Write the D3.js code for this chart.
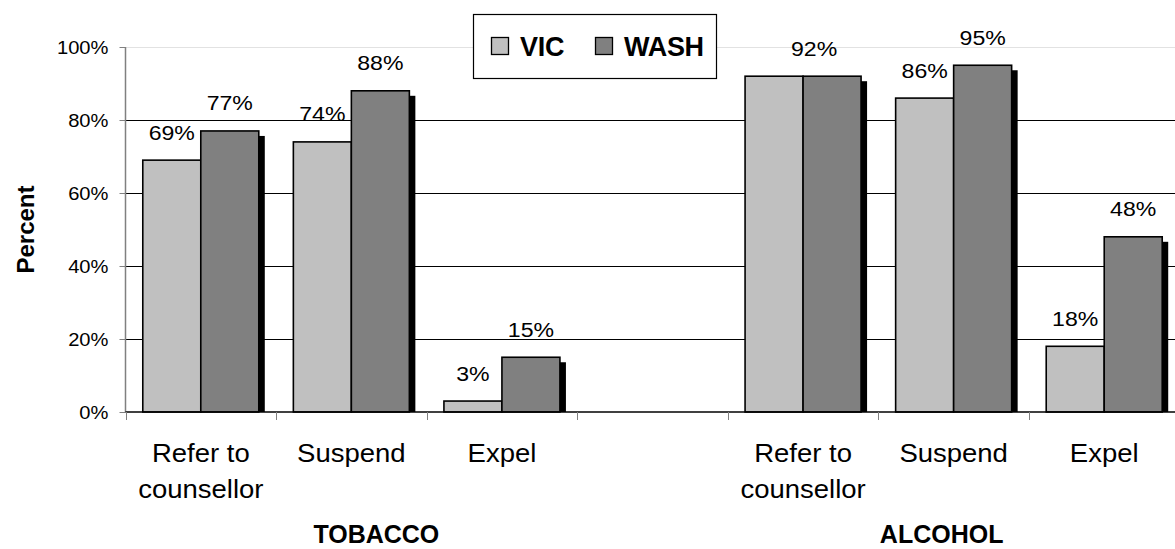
<!DOCTYPE html>
<html>
<head>
<meta charset="utf-8">
<script src="https://cdn.jsdelivr.net/npm/d3@7"></script>
<style>
  html, body { margin: 0; padding: 0; background: #fff; }
  svg { display: block; font-family: "Liberation Sans", Arial, sans-serif; }
</style>
</head>
<body>
<svg id="chart" width="1175" height="549"></svg>
<script>
// ---- data ----
const categories = ["Refer to\ncounsellor", "Suspend", "Expel", "", "Refer to\ncounsellor", "Suspend", "Expel"];
const seriesNames = ["VIC", "WASH"];
const vicValues  = [69, 74, 3, null, 92, 86, 18];
const washValues = [77, 88, 15, null, 92, 95, 48];
const vicLabelShown = [true, true, true, false, false, true, true];
const yTicks = [0, 20, 40, 60, 80, 100];
const groupNames = ["TOBACCO", "ALCOHOL"];
const groupAnchor = [1, 5]; // category index each group title sits under

const colors = { VIC: "#c0c0c0", WASH: "#808080" };

const svg = d3.select("#chart");
const pLeft = 125.5, pRight = 1179.5, pTop = 47, pBottom = 412;

const x = d3.scaleBand().domain(d3.range(categories.length)).range([pLeft, pRight]).padding(0);
const bw = x.bandwidth();
const xs = d3.scaleBand().domain(seriesNames).range([0, bw]).paddingInner(0).paddingOuter(0.298);
const y = d3.scaleLinear().domain([0, 100]).range([pBottom, pTop]);

// gridlines
svg.append("g").selectAll("line").data(yTicks.filter(t => t > 0)).join("line")
  .attr("x1", pLeft).attr("x2", pRight)
  .attr("y1", d => Math.round(y(d)) + 0.5).attr("y2", d => Math.round(y(d)) + 0.5)
  .attr("stroke", d => d === 100 ? "#e2e2e2" : "#000")
  .attr("stroke-width", 1);

// y axis
const yAxis = svg.append("g").attr("transform", `translate(${pLeft},0)`)
  .call(d3.axisLeft(y).tickValues(yTicks).tickSize(6).tickFormat(d => d + "%"));
yAxis.select(".domain").attr("stroke", "#808080").attr("stroke-width", 1.5).attr("d", `M0,${pTop}V${pBottom}`);
yAxis.selectAll(".tick line").attr("stroke", "#808080");
yAxis.selectAll(".tick text").remove();
yAxis.selectAll(".tick").append("text")
  .attr("text-anchor", "end")
  .attr("transform", "translate(-17,6.5) scale(1.12,1)")
  .attr("font-size", 18)
  .attr("fill", "#000")
  .text(d => d + "%");

// bars
const rows = categories.map((c, i) => ({ i, VIC: vicValues[i], WASH: washValues[i] }));
const bars = svg.append("g");
rows.forEach(r => {
  if (r.VIC == null) return;
  const g = bars.append("g").attr("transform", `translate(${x(r.i)},0)`);
  // shadow for WASH
  g.append("rect")
    .attr("x", xs("WASH") + 6).attr("y", y(r.WASH) + 5)
    .attr("width", xs.bandwidth()).attr("height", pBottom - y(r.WASH) - 5)
    .attr("fill", "#000");
  seriesNames.forEach(s => {
    g.append("rect")
      .attr("x", xs(s)).attr("y", y(r[s]))
      .attr("width", xs.bandwidth()).attr("height", pBottom - y(r[s]))
      .attr("fill", colors[s]).attr("stroke", "#000").attr("stroke-width", 1.6);
  });
});

// x axis
svg.append("line").attr("x1", pLeft).attr("x2", pRight).attr("y1", pBottom).attr("y2", pBottom)
  .attr("stroke", "#000").attr("stroke-width", 1.5);
svg.append("g").selectAll("line").data(d3.range(categories.length + 1)).join("line")
  .attr("x1", d => Math.round(pLeft + d * bw) + 0.5).attr("x2", d => Math.round(pLeft + d * bw) + 0.5)
  .attr("y1", pBottom).attr("y2", pBottom + 8)
  .attr("stroke", "#808080").attr("stroke-width", 1);

// data labels
const labels = svg.append("g").attr("font-size", 21).attr("fill", "#000");
rows.forEach(r => {
  if (r.VIC == null) return;
  if (vicLabelShown[r.i]) {
    const cx = x(r.i) + xs("VIC") + xs.bandwidth() / 2;
    labels.append("text").attr("text-anchor", "middle")
      .attr("transform", `translate(${cx},${y(r.VIC) - 20.5}) scale(1.1,1)`)
      .text(r.VIC + "%");
  }
  let cxw = x(r.i) + xs("WASH") + xs.bandwidth() / 2;
  if (!vicLabelShown[r.i]) cxw -= 18;
  labels.append("text").attr("text-anchor", "middle")
    .attr("transform", `translate(${cxw},${y(r.WASH) - 20.5}) scale(1.1,1)`)
    .text(r.WASH + "%");
});

// category labels
const catG = svg.append("g").attr("font-size", 25).attr("fill", "#000");
categories.forEach((c, i) => {
  if (!c) return;
  const cx = x(i) + bw / 2;
  c.split("\n").forEach((line, k) => {
    catG.append("text").attr("text-anchor", "middle")
      .attr("transform", `translate(${cx},${462 + k * 36}) scale(1.1,1)`)
      .text(line);
  });
});

// group titles
const groupShift = [25, -12];
groupNames.forEach((g, k) => {
  svg.append("text").attr("text-anchor", "middle")
    .attr("x", x(groupAnchor[k]) + bw / 2 + groupShift[k]).attr("y", 543)
    .attr("font-size", 25).attr("font-weight", "bold").attr("fill", "#000")
    .text(g);
});

// y title
svg.append("text").attr("text-anchor", "middle")
  .attr("transform", `translate(34,${(pTop + pBottom) / 2}) rotate(-90)`)
  .attr("font-size", 24).attr("font-weight", "bold").attr("fill", "#000")
  .text("Percent");

// legend
const lg = svg.append("g");
lg.append("rect").attr("x", 473.5).attr("y", 14.5).attr("width", 243).attr("height", 64)
  .attr("fill", "#fff").attr("stroke", "#000").attr("stroke-width", 1.2);
const legendPos = [{ sx: 491, tx: 520 }, { sx: 595, tx: 624 }];
seriesNames.forEach((s, k) => {
  lg.append("rect").attr("x", legendPos[k].sx + 0.5).attr("y", 37.5).attr("width", 17).attr("height", 17)
    .attr("fill", colors[s]).attr("stroke", "#000").attr("stroke-width", 1.3);
  lg.append("text").attr("x", legendPos[k].tx).attr("y", 55.5)
    .attr("font-size", 27).attr("font-weight", "bold").attr("fill", "#000")
    .attr("letter-spacing", -0.3)
    .text(s);
});
</script>
</body>
</html>
